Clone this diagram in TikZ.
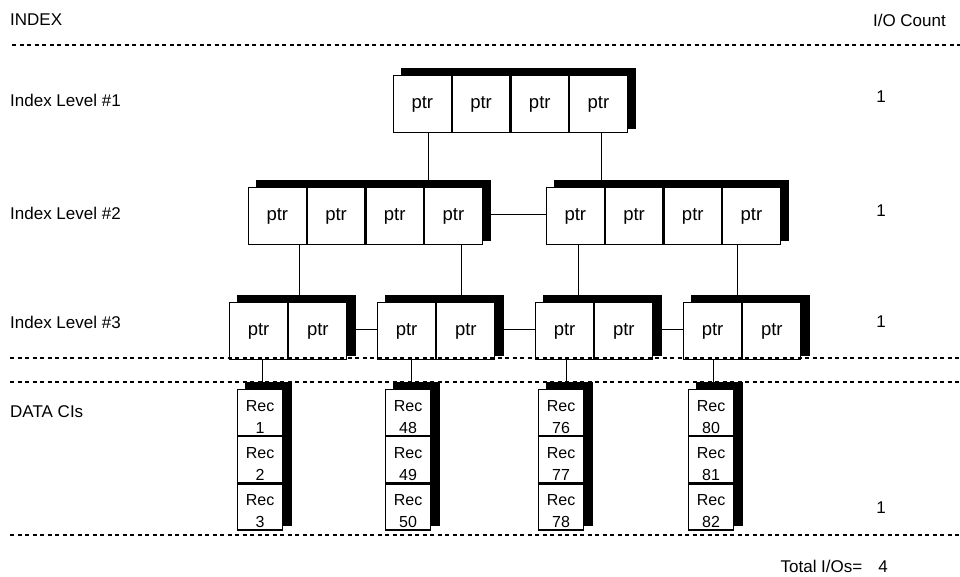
\documentclass[tikz,border=0pt]{standalone}
\usepackage{fontspec}
\setmainfont{Liberation Sans}
\usetikzlibrary{positioning,backgrounds}

\begin{document}
\begin{tikzpicture}[x=1pt,y=-1pt,
  ptr/.style={draw,fill=white,line width=1.2pt,minimum width=57.5pt,minimum height=57pt,inner sep=0pt,font=\fontsize{18.5}{21}\selectfont},
  rec/.style={draw,fill=white,line width=1.2pt,minimum width=45pt,minimum height=46pt,inner sep=0pt,align=center,text height=41pt,text depth=0pt,font=\fontsize{16}{22}\selectfont},
  shade/.style={fill=black},
  link/.style={line width=1.2pt},
  sep/.style={dash pattern=on 4pt off 3.5pt,line width=1.3pt},
  lbl/.style={font=\fontsize{17}{20}\selectfont,inner sep=0pt}]
\useasboundingbox (0,0) rectangle (960,576);

% index levels 1 and 2
\foreach \g/\x/\y in {l1/393/75, l2L/248/187, l2R/546/187} {
  \node [ptr,anchor=north west] (\g a) at (\x,\y) {ptr};
  \node [ptr,right=0pt of \g a] (\g b) {ptr};
  \node [ptr,right=0pt of \g b] (\g c) {ptr};
  \node [ptr,right=0pt of \g c] (\g d) {ptr};
}
% index level 3
\foreach \g/\x in {a/229, b/377, c/535, d/683} {
  \node [ptr,anchor=north west,minimum width=58pt] (l3\g1) at (\x,302) {ptr};
  \node [ptr,minimum width=58pt,right=0pt of l3\g1] (l3\g2) {ptr};
}
% data records
\foreach \g/\x/\p/\q/\r in {a/237/1/2/3, b/385/48/49/50, c/538/76/77/78, d/688/80/81/82} {
  \node [rec,anchor=north west] (d\g1) at (\x,389) {Rec\\\p};
  \node [rec,below=0pt of d\g1] (d\g2) {Rec\\\q};
  \node [rec,below=0pt of d\g2] (d\g3) {Rec\\\r};
}

\begin{scope}[on background layer]
  % shadows
  \foreach \f/\l in {l1a/l1d, l2La/l2Ld, l2Ra/l2Rd, l3a1/l3a2, l3b1/l3b2, l3c1/l3c2, l3d1/l3d2, da1/da3, db1/db3, dc1/dc3, dd1/dd3}
    \fill [shade] ([shift={(8pt,7pt)}]\f.north west) rectangle ([shift={(8.5pt,4.5pt)}]\l.south east);
  % tree links
  \draw [link] ([xshift=6pt]l1a.south) -- ([xshift=6pt]l1a.south |- l2Ld.north);
  \draw [link] ([xshift=3pt]l1d.south) -- ([xshift=3pt]l1d.south |- l2Ra.north);
  \draw [link] ([yshift=2pt]l2Ld.east) -- ([yshift=2pt]l2Ra.west);
  \draw [link] ([xshift=22pt]l2La.south) -- ([xshift=22pt]l2La.south |- l3a1.north);
  \draw [link] ([xshift=8pt]l2Ld.south) -- ([xshift=8pt]l2Ld.south |- l3b1.north);
  \draw [link] ([xshift=3pt]l2Ra.south) -- ([xshift=3pt]l2Ra.south |- l3c1.north);
  \draw [link] ([xshift=-14pt]l2Rd.south) -- ([xshift=-14pt]l2Rd.south |- l3d1.north);
  \draw [link] ([yshift=2pt]l3a2.east) -- ([yshift=2pt]l3b1.west);
  \draw [link] ([yshift=2pt]l3b2.east) -- ([yshift=2pt]l3c1.west);
  \draw [link] ([yshift=2pt]l3c2.east) -- ([yshift=2pt]l3d1.west);
  \foreach \g/\s in {a/2.5pt, b/3.5pt, c/5.5pt, d/2.5pt}
    \draw [link] ([xshift=\s]d\g1.north) -- ([xshift=\s]d\g1.north |- l3\g1.south);
\end{scope}

% separators
\draw [sep] (12,45) -- (960,45);
\draw [sep] (10,358) -- (960,358);
\draw [sep] (10,382) -- (960,382);
\draw [sep] (10,535) -- (960,535);

% labels
\node [lbl,anchor=west] (idx) at (10,20) {INDEX};
\node [lbl,anchor=east] (ioc) at (946,20) {I/O Count};
\node [lbl,anchor=west] (lv1) at (10,100) {Index Level \#1};
\node [lbl,anchor=west] (lv2) at (10,213) {Index Level \#2};
\node [lbl,anchor=west] (lv3) at (10,322) {Index Level \#3};
\node [lbl,anchor=west] (dat) at (10,412) {DATA CIs};
\node [lbl] (c1) at (881,97) {1};
\node [lbl] (c2) at (881,211) {1};
\node [lbl] (c3) at (881,322) {1};
\node [lbl] (c4) at (881,508) {1};
\node [lbl,anchor=east] (tot) at (888,566) {Total I/Os=\hspace{16pt}4};
\end{tikzpicture}
\end{document}
